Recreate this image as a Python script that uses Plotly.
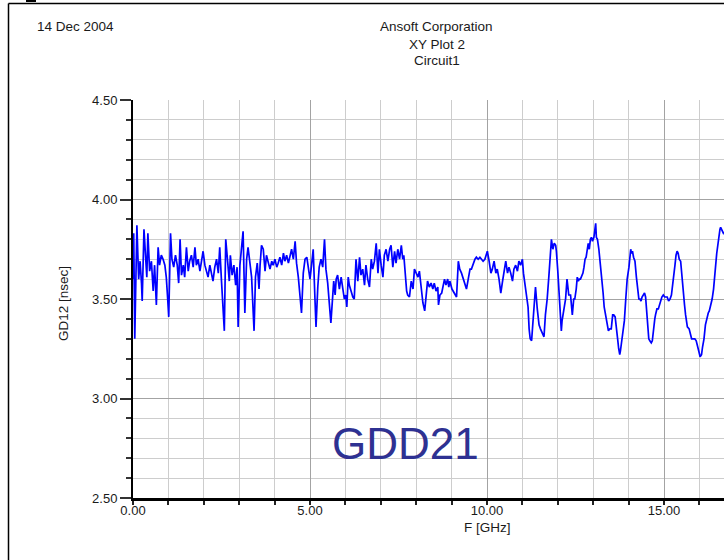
import plotly.graph_objects as go

# ---- data (frequency in GHz, group delay in nsec) ----
freq_ghz = [
    0.00, 0.02, 0.05, 0.08, 0.11, 0.16, 0.20, 0.24, 0.26, 0.31, 0.35, 0.39, 0.42, 0.47, 0.52, 0.57,
    0.61, 0.66, 0.71, 0.75, 0.80, 0.85, 0.90, 0.94, 0.98, 1.01, 1.06, 1.10, 1.15, 1.20, 1.25, 1.29,
    1.33, 1.37, 1.42, 1.46, 1.51, 1.56, 1.60, 1.65, 1.70, 1.75, 1.79, 1.84, 1.89, 1.93, 1.98, 2.03,
    2.08, 2.12, 2.17, 2.22, 2.26, 2.31, 2.36, 2.41, 2.45, 2.50, 2.54, 2.58, 2.62, 2.67, 2.72, 2.75,
    2.80, 2.85, 2.90, 2.94, 2.97, 3.02, 3.07, 3.11, 3.16, 3.21, 3.25, 3.30, 3.35, 3.42, 3.46, 3.51,
    3.56, 3.59, 3.63, 3.68, 3.73, 3.77, 3.82, 3.87, 3.92, 3.96, 4.01, 4.06, 4.10, 4.15, 4.20, 4.25,
    4.29, 4.34, 4.39, 4.43, 4.48, 4.53, 4.58, 4.62, 4.67, 4.72, 4.76, 4.81, 4.86, 4.91, 4.95, 5.00,
    5.05, 5.09, 5.14, 5.17, 5.22, 5.26, 5.31, 5.36, 5.41, 5.45, 5.50,
    5.59, 5.67, 5.71, 5.74, 5.78, 5.83, 5.88, 5.92, 5.97, 6.01, 6.04, 6.08, 6.11, 6.16, 6.21, 6.25,
    6.30, 6.35, 6.40, 6.44, 6.49, 6.54, 6.58, 6.63, 6.68, 6.73, 6.77, 6.82, 6.87, 6.92, 6.96, 7.01,
    7.06, 7.10, 7.15, 7.20, 7.25, 7.29, 7.34, 7.39, 7.43, 7.48, 7.53, 7.58, 7.62, 7.65, 7.69, 7.73,
    7.76, 7.81, 7.86, 7.91, 7.95, 8.00, 8.05, 8.09, 8.14, 8.19, 8.24,
    8.32, 8.37, 8.42, 8.47, 8.51, 8.56, 8.61, 8.63, 8.67, 8.72, 8.77, 8.80, 8.84, 8.89, 8.92, 8.95,
    9.01, 9.08, 9.14, 9.19, 9.23, 9.28, 9.33, 9.38, 9.42, 9.47, 9.52, 9.56, 9.61, 9.66, 9.70, 9.75,
    9.80, 9.84, 9.89, 9.94, 9.98, 10.01, 10.06, 10.11, 10.15, 10.20, 10.25, 10.29, 10.34, 10.39, 10.44, 10.48,
    10.53, 10.58, 10.62, 10.67, 10.72, 10.76, 10.81, 10.86, 10.90, 10.95, 11.00, 11.03, 11.07, 11.12, 11.16, 11.19,
    11.22, 11.26, 11.30, 11.34, 11.37, 11.42, 11.47, 11.51, 11.56, 11.61, 11.65, 11.70, 11.75, 11.80, 11.82, 11.86,
    11.90, 11.94, 11.96, 12.00, 12.03, 12.07, 12.10, 12.12, 12.17, 12.22, 12.26, 12.31, 12.36, 12.41, 12.45,
    12.48, 12.52, 12.55, 12.58, 12.61, 12.64, 12.67, 12.71, 12.74, 12.77, 12.80, 12.83, 12.86, 12.89, 12.92, 12.95,
    12.98, 13.02, 13.05, 13.07, 13.09, 13.12, 13.16, 13.21, 13.25, 13.28, 13.31, 13.35, 13.40, 13.43, 13.47, 13.51,
    13.55, 13.58, 13.62, 13.66, 13.69, 13.72, 13.75, 13.77, 13.81, 13.85, 13.88, 13.92, 13.96, 14.01, 14.06, 14.08,
    14.11, 14.14, 14.18, 14.22, 14.25, 14.29, 14.32, 14.35, 14.38, 14.42, 14.45, 14.48, 14.51, 14.54, 14.57, 14.60,
    14.64, 14.67, 14.70, 14.74, 14.76, 14.80, 14.84, 14.88, 14.91, 14.94, 14.98, 15.02, 15.06, 15.09, 15.13, 15.17,
    15.21, 15.25, 15.28, 15.31, 15.34, 15.37, 15.40, 15.43, 15.47, 15.50, 15.54, 15.58, 15.61, 15.66, 15.71, 15.75,
    15.78, 15.82, 15.87, 15.91, 15.94, 15.98, 16.02, 16.06, 16.09, 16.13, 16.17, 16.21, 16.25, 16.28, 16.32, 16.36,
    16.40, 16.42, 16.46, 16.49, 16.52, 16.55, 16.58, 16.60, 16.64, 16.68, 16.75,
]

gd12_nsec = [
    3.60, 3.83, 3.30, 3.61, 3.87, 3.60, 3.69, 3.58, 3.49, 3.85, 3.72, 3.61, 3.83, 3.64, 3.69, 3.54,
    3.67, 3.47, 3.76, 3.67, 3.72, 3.70, 3.67, 3.61, 3.50, 3.41, 3.83, 3.70, 3.66, 3.72, 3.67, 3.58,
    3.80, 3.62, 3.67, 3.61, 3.76, 3.64, 3.69, 3.72, 3.66, 3.76, 3.67, 3.70, 3.64, 3.69, 3.74, 3.67,
    3.64, 3.61, 3.67, 3.63, 3.59, 3.66, 3.70, 3.63, 3.76, 3.59, 3.45, 3.34, 3.80, 3.67, 3.59, 3.72,
    3.62, 3.67, 3.57, 3.66, 3.36, 3.67, 3.77, 3.84, 3.43, 3.70, 3.76, 3.68, 3.61, 3.34, 3.61, 3.68,
    3.55, 3.67, 3.77, 3.75, 3.64, 3.72, 3.68, 3.65, 3.69, 3.67, 3.70, 3.66, 3.68, 3.71, 3.67, 3.73,
    3.69, 3.72, 3.68, 3.71, 3.75, 3.70, 3.79, 3.68, 3.61, 3.51, 3.43, 3.63, 3.70, 3.71, 3.65, 3.60,
    3.68, 3.75, 3.50, 3.36, 3.56, 3.66, 3.70, 3.66, 3.80, 3.65, 3.58,
    3.38, 3.59, 3.52, 3.60, 3.62, 3.55, 3.61, 3.56, 3.50, 3.52, 3.46, 3.61, 3.57, 3.54, 3.51, 3.50,
    3.70, 3.59, 3.71, 3.62, 3.65, 3.57, 3.67, 3.60, 3.56, 3.70, 3.65, 3.69, 3.78, 3.63, 3.75, 3.67,
    3.61, 3.72, 3.75, 3.69, 3.75, 3.77, 3.66, 3.74, 3.68, 3.75, 3.70, 3.77, 3.70, 3.72, 3.63, 3.54,
    3.52, 3.51, 3.59, 3.55, 3.65, 3.63, 3.61, 3.64, 3.57, 3.48, 3.44,
    3.59, 3.56, 3.58, 3.55, 3.58, 3.54, 3.56, 3.47, 3.52, 3.53, 3.58, 3.60, 3.57, 3.60, 3.56, 3.59,
    3.55, 3.53, 3.51, 3.69, 3.65, 3.63, 3.60, 3.57, 3.55, 3.60, 3.65, 3.65, 3.68, 3.70, 3.71, 3.70,
    3.71, 3.70, 3.69, 3.70, 3.72, 3.74, 3.69, 3.63, 3.65, 3.69, 3.63, 3.65, 3.60, 3.53, 3.59, 3.64,
    3.69, 3.63, 3.66, 3.63, 3.59, 3.65, 3.67, 3.64, 3.69, 3.67, 3.70, 3.63, 3.58, 3.50, 3.46, 3.35,
    3.30, 3.29, 3.40, 3.50, 3.56, 3.45, 3.37, 3.35, 3.33, 3.31, 3.42, 3.50, 3.62, 3.74, 3.80, 3.75,
    3.78, 3.77, 3.74, 3.64, 3.53, 3.42, 3.34, 3.39, 3.44, 3.50, 3.60, 3.52, 3.52, 3.42, 3.50,
    3.50, 3.55, 3.61, 3.59, 3.60, 3.60, 3.61, 3.63, 3.66, 3.70, 3.71, 3.75, 3.78, 3.75, 3.80, 3.81,
    3.79, 3.81, 3.84, 3.88, 3.81, 3.80, 3.75, 3.67, 3.60, 3.53, 3.46, 3.42, 3.37, 3.34, 3.35, 3.35,
    3.42, 3.42, 3.41, 3.36, 3.30, 3.25, 3.22, 3.24, 3.29, 3.34, 3.39, 3.50, 3.60, 3.66, 3.75, 3.73,
    3.74, 3.71, 3.69, 3.61, 3.57, 3.50, 3.50, 3.49, 3.51, 3.52, 3.53, 3.51, 3.42, 3.35, 3.30, 3.29,
    3.28, 3.29, 3.35, 3.40, 3.42, 3.45, 3.45, 3.48, 3.49, 3.51, 3.52, 3.51, 3.51, 3.51, 3.49, 3.50,
    3.52, 3.57, 3.63, 3.67, 3.72, 3.74, 3.73, 3.70, 3.69, 3.62, 3.55, 3.47, 3.42, 3.36, 3.35, 3.31,
    3.30, 3.30, 3.30, 3.29, 3.26, 3.24, 3.21, 3.22, 3.26, 3.30, 3.37, 3.41, 3.43, 3.44, 3.47, 3.50,
    3.55, 3.61, 3.67, 3.73, 3.78, 3.82, 3.85, 3.86, 3.84, 3.83, 3.84,
]

x_range = [0, 16.695]
y_range = [2.5, 4.5]
x_major = 5
x_minor = 1
y_major = 0.5
y_minor = 0.1

header_date = "14 Dec 2004"
header_lines = ["Ansoft Corporation", "XY Plot 2", "Circuit1"]
x_title = "F [GHz]"
y_title = "GD12 [nsec]"
overlay_label = "GDD21"

# ---- figure ----
L, R, T, B = 133, 0, 100, 62
W, H = 724, 560
pw, ph = W - L - R, H - T - B


def px(xp):
    return (xp - L) / pw


def py(yp):
    return (H - B - yp) / ph


fig = go.Figure(
    go.Scatter(
        x=freq_ghz, y=gd12_nsec, mode="lines",
        line=dict(color="#0000FF", width=1.7), hoverinfo="skip",
    )
)

font_main = "Liberation Sans, Arial, sans-serif"
txt_col = "#1a1a1a"
hdr_font = dict(size=13.5, color=txt_col, family=font_main)

fig.update_layout(
    width=W, height=H,
    margin=dict(l=L, r=R, t=T, b=B),
    paper_bgcolor="white", plot_bgcolor="white",
    showlegend=False,
    font=dict(family=font_main, size=13, color=txt_col),
)

fig.update_xaxes(
    range=x_range, tick0=0, dtick=x_major, tickformat=".2f",
    ticks="outside", ticklen=4, tickwidth=1.5, tickcolor="#222",
    ticklabelstandoff=-6,
    showgrid=True, gridcolor="#a3a3a3", gridwidth=1.4,
    minor=dict(dtick=x_minor, ticks="outside", ticklen=4, tickwidth=1.5,
               tickcolor="#222", showgrid=True, gridcolor="#cdcdcd", gridwidth=1.4),
    showline=True, linecolor="black", linewidth=3,
    zeroline=False, fixedrange=True,
)

fig.update_yaxes(
    range=y_range, tick0=2.5, dtick=y_major, tickformat=".2f",
    ticks="outside", ticklen=11, tickwidth=1.5, tickcolor="#333",
    showgrid=True, gridcolor="#a3a3a3", gridwidth=1.4,
    minor=dict(dtick=y_minor, ticks="outside", ticklen=5, tickwidth=1.5,
               tickcolor="#333", showgrid=True, gridcolor="#cdcdcd", gridwidth=1.4),
    showline=True, linecolor="black", linewidth=2,
    zeroline=False, fixedrange=True,
)

annotations = [
    dict(text=header_date, x=px(35), y=py(27), xanchor="left", yanchor="middle", font=hdr_font),
    dict(text=header_lines[0], x=px(437), y=py(27), xanchor="center", yanchor="middle", font=hdr_font),
    dict(text=header_lines[1], x=px(437), y=py(44), xanchor="center", yanchor="middle", font=hdr_font),
    dict(text=header_lines[2], x=px(437), y=py(60), xanchor="center", yanchor="middle", font=hdr_font),
    dict(text=y_title, x=px(63), y=py(304), xanchor="center", yanchor="middle", textangle=-90,
         font=hdr_font),
    dict(text=overlay_label, x=px(405), y=py(443), xanchor="center", yanchor="middle",
         font=dict(size=44, color="#2E3192", family=font_main)),
]
for a in annotations:
    a.update(xref="paper", yref="paper", showarrow=False)
# x-axis title centred on 10 GHz as in the reference
annotations.append(dict(text=x_title, x=10, xref="x", y=py(527), yref="paper",
                        showarrow=False, xanchor="center", yanchor="middle",
                        font=hdr_font))
fig.update_layout(annotations=annotations)

# outer frame of the original report page
fig.add_shape(type="line", xref="paper", yref="paper",
              x0=px(8.5), x1=px(8.5), y0=py(565), y1=py(3.5),
              line=dict(color="black", width=1.5))
fig.add_shape(type="line", xref="paper", yref="paper",
              x0=px(8.5), x1=px(730), y0=py(3.5), y1=py(3.5),
              line=dict(color="black", width=1.5))
fig.add_shape(type="rect", xref="paper", yref="paper",
              x0=px(26), x1=px(36), y0=py(0), y1=py(2),
              line=dict(width=0), fillcolor="black")

fig.write_html("out.html")
